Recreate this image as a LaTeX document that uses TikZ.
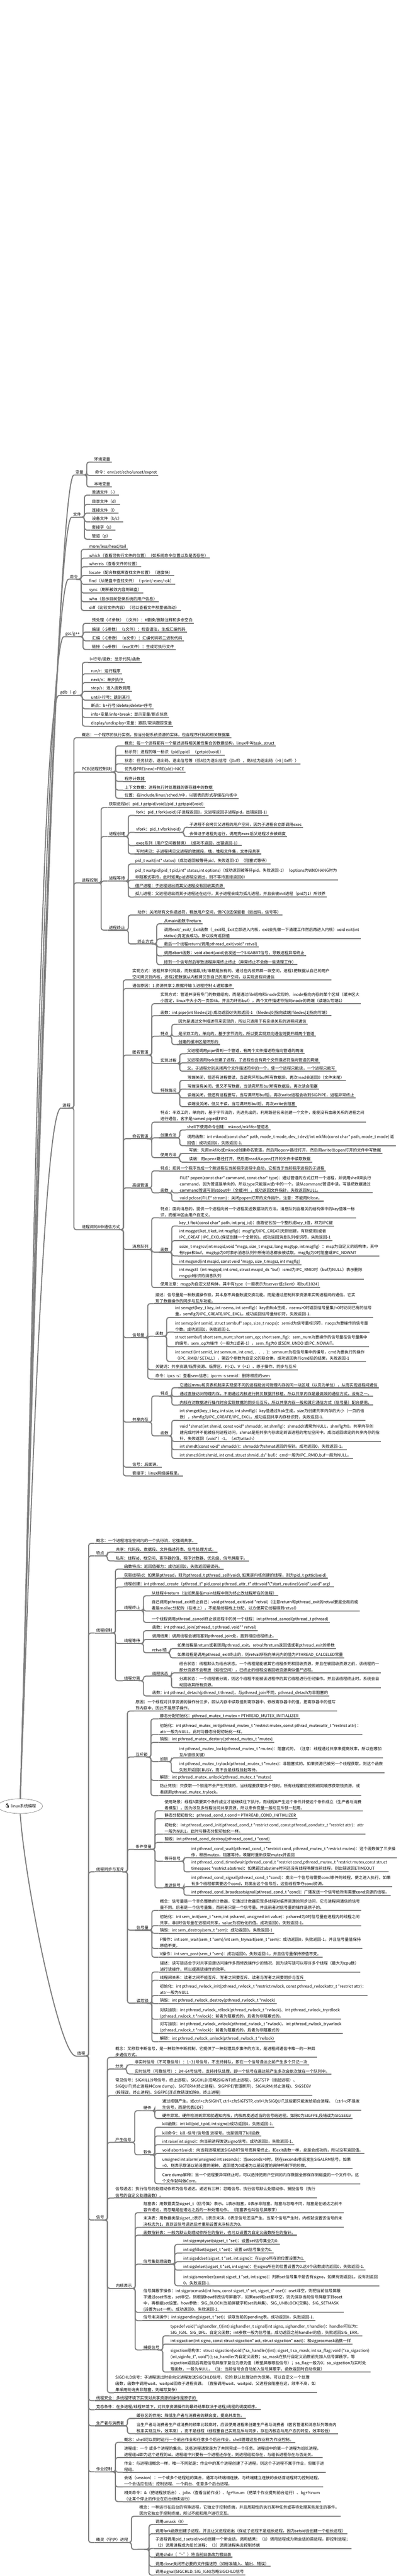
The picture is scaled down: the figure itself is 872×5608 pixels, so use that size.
\documentclass[tikz,border=0pt]{standalone}
\usepackage{fontspec}
\setmainfont{Noto Sans CJK SC}
\newfontfamily\emojifont{Noto Emoji}
\usetikzlibrary{shapes.geometric}
\definecolor{linegray}{RGB}{128,128,128}
\newcommand{\tfont}{\fontsize{8.7pt}{13.5pt}\selectfont}
\tikzset{%
	topic/.style={
		anchor=south west,
		inner xsep=3pt,
		inner ysep=1.5pt,
		align=left,
		font=\tfont,
		append after command={(\tikzlastnode.south west) edge[uline] (\tikzlastnode.south east)}
	},
	uline/.style={draw=linegray, line width=2.3pt},
	branch/.style={
		every edge/.style={draw=linegray, line width=2.3pt, rounded corners=5pt,
			to path={-- ++(4,0) |- (\tikztotarget)}}
	},
	trunk/.style={draw=linegray, line width=2.3pt},
	rootnode/.style={
		ellipse,
		draw=linegray,
		line width=0.8pt,
		fill=white,
		minimum width=86pt,
		minimum height=32pt,
		inner sep=0pt,
		font=\tfont
	},
}

\begin{document}
\begin{tikzpicture}[x=1pt,y=-1pt]
			\useasboundingbox (0,0) rectangle (872,5608);
			% Draw the root
			\node[rootnode] (root) at (44,3932) {{\emojifont\fontsize{10pt}{10pt}\selectfont 🐧}\,linux系统编程};
			
			% Draw the main topics
			\node[topic] (bl) at (161,1034) {变量};
			\node[topic] (wj) at (156,1126) {文件};
			\node[topic] (ml) at (149,1261) {命令};
			\node[topic] (gcc) at (139,1386) {gcc/g++};
			\node[topic] (gdb) at (128,1514) {gdb（-g）};
			\node[topic] (jc) at (133,2412) {进程};
			\node[topic] (xc) at (165,4476) {线程};
			\draw[trunk] (root.north) .. controls +(25,-800) and +(-40,0) .. (bl.south west);
			\draw[trunk] (root.north) .. controls +(25,-800) and +(-40,0) .. (wj.south west);
			\draw[trunk] (root.north) .. controls +(25,-800) and +(-40,0) .. (ml.south west);
			\draw[trunk] (root.north) .. controls +(25,-800) and +(-40,0) .. (gcc.south west);
			\draw[trunk] (root.north) .. controls +(25,-800) and +(-40,0) .. (gdb.south west);
			\draw[trunk] (root.north) .. controls +(20,-500) and +(-40,0) .. (jc.south west);
			\draw[trunk] (root.south) .. controls +(10,150) and +(-35,0) .. (xc.south west);
			
			% variables and files
			\node[topic] (bl1) at (202,1006) {环境变量};
			\node[topic] (bl2) at (204,1035) {命令：env/set/echo/unset/exprot};
			\node[topic] (bl3) at (202,1060) {本地变量};
			\draw[branch] (bl.south east) edge (bl1.south west) edge (bl2.south west) edge (bl3.south west);
			\node[topic] (wj1) at (197,1078) {普通文件（-）};
			\node[topic] (wj2) at (197,1098) {目录文件（d）};
			\node[topic] (wj3) at (197,1117) {连接文件（l）};
			\node[topic] (wj4) at (197,1136) {设备文件（b/c）};
			\node[topic] (wj5) at (197,1154) {套接字（s）};
			\node[topic] (wj6) at (197,1174) {管道（p）};
			\draw[branch] (wj.south east) edge (wj1.south west) edge (wj2.south west) edge (wj3.south west)
				edge (wj4.south west) edge (wj5.south west) edge (wj6.south west);
			
			% commands
			\node[topic] (ml1) at (191,1196) {more/less/head/tail};
			\node[topic] (ml2) at (191,1215) {which（查看可执行文件的位置）（如系统命令位置以及是否存在）};
			\node[topic] (ml3) at (191,1234) {whereis（查看文件的位置）};
			\node[topic] (ml4) at (191,1253) {locate（配合数据库查找文件位置）（速度快）};
			\node[topic] (ml5) at (191,1272) {find（从硬盘中查找文件）（-print/-exec/-ok）};
			\node[topic] (ml6) at (191,1291) {sync（刷新被改内容到磁盘）};
			\node[topic] (ml7) at (191,1310) {who（显示目前登录系统的用户信息）};
			\node[topic] (ml8) at (191,1329) {diff（比较文件内容）（可以查看文件那里被改动）};
			\draw[branch] (ml.south east) edge (ml1.south west) edge (ml2.south west) edge (ml3.south west)
				edge (ml4.south west) edge (ml5.south west) edge (ml6.south west) edge (ml7.south west) edge (ml8.south west);
			
			% gcc and gdb
			\node[topic] (gcc1) at (197,1357) {预处理（-E参数）（i文件）：\#替换/删除注释和多余空白};
			\node[topic] (gcc2) at (197,1376) {编译（-S参数）（s文件）：检查语法，生成汇编代码};
			\node[topic] (gcc3) at (197,1395) {汇编（-C参数）（o文件）：汇编代码转二进制代码};
			\node[topic] (gcc4) at (197,1414) {链接（-o参数）（exe文件）：生成可执行文件};
			\draw[branch] (gcc.south east) edge (gcc1.south west) edge (gcc2.south west) edge (gcc3.south west) edge (gcc4.south west);
			\node[topic] (gdb1) at (192,1442) {l+行号/函数：显示代码/函数};
			\node[topic] (gdb2) at (195,1467) {run/r：运行程序};
			\node[topic] (gdb3) at (195,1486) {next/n：单步执行};
			\node[topic] (gdb4) at (195,1505) {step/s：进入函数调用};
			\node[topic] (gdb5) at (195,1524) {until+行号：跳到某行};
			\node[topic] (gdb6) at (195,1543) {断点：b+行号/delete/delete+序号};
			\node[topic] (gdb7) at (195,1562) {info+变量/info+break：显示变量/断点信息};
			\node[topic] (gdb8) at (195,1581) {display/undisplay+变量：跟踪/取消跟踪变量};
			\draw[branch] (gdb.south east) edge (gdb1.south west) edge (gdb2.south west) edge (gdb3.south west) edge (gdb4.south west)
				edge (gdb5.south west) edge (gdb6.south west) edge (gdb7.south west) edge (gdb8.south west);
			
			% processes
			\node[topic] (jc1) at (175,1606) {概念：一个程序的执行实例，担当分配系统资源的实体，包含程序代码和相关数据集};
			\node[topic] (pcb) at (175,1681) {PCB(进程控制块)};
			\node[topic] (kz) at (175,1922) {进程控制};
			\node[topic] (tx) at (175,2677) {进程间的8中通信方式};
			\draw[branch] (jc.south east) edge (jc1.south west) edge (pcb.south west) edge (kz.south west) edge (tx.south west);
			\node[topic] (pcb1) at (268,1624) {概念：每一个进程都有一个描述进程相关属性集合的数据结构，linux中叫task\_struct};
			\node[topic] (pcb2) at (268,1644) {标示符：进程的唯一标识（pid/ppid）（getpid(void)）};
			\node[topic] (pcb3) at (268,1663) {状态：任务状态，退出码，退出信号等（低8位为退出信号（|0xff），高8位为退出码（>8 | 0xff））};
			\node[topic] (pcb4) at (268,1681) {优先级PRE(new)=PRE(old)+NICE};
			\node[topic] (pcb5) at (268,1701) {程序计数器};
			\node[topic] (pcb6) at (268,1720) {上下文数据：进程执行时处理器的寄存器中的数据};
			\node[topic] (pcb7) at (268,1738) {位置：在include/linux/sched.h中，以链表的形式存储在内核中};
			\draw[branch] (pcb.south east) edge (pcb1.south west) edge (pcb2.south west) edge (pcb3.south west) edge (pcb4.south west)
				edge (pcb5.south west) edge (pcb6.south west) edge (pcb7.south west);
			
			% process control
			\node[topic] (kz1) at (234,1758) {获取进程id：pid\_t getpid(void)/pid\_t getppid(void)};
			\node[topic] (cj) at (234,1821) {进程创建};
			\node[topic] (dd) at (234,1918) {进程等待};
			\node[topic] (zz) at (234,2025) {进程终止};
			\draw[branch] (kz.south east) edge (kz1.south west) edge (cj.south west) edge (dd.south west) edge (zz.south west);
			\node[topic] (cj1) at (293,1775) {fork：pid\_t fork(void)(子进程返回0，父进程返回子进程pid，出错返回-1)};
			\node[topic] (vf) at (293,1812) {vfork：pid\_t vfork(void)};
			\node[topic] (cj3) at (293,1841) {exec系列（用户空间被替换）（成功不返回，出错返回-1）};
			\node[topic] (cj4) at (293,1859) {写时拷贝：子进程拷贝父进程的数据段，栈，堆和文件集，文本段共享};
			\draw[branch] (cj.south east) edge (cj1.south west) edge (vf.south west) edge (cj3.south west) edge (cj4.south west);
			\node[topic] (vf1) at (409,1801) {子进程不会拷贝父进程的用户空间，因为子进程会立即调用exec};
			\node[topic] (vf2) at (409,1821) {会保证子进程先运行，调用完exec后父进程才会被调度};
			\draw[branch] (vf.south east) edge (vf1.south west) edge (vf2.south west);
			\node[topic] (dd1) at (291,1881) {pid\_t wait(int* status)（成功返回被等待pid，失败返回-1）（阻塞式等待）};
			\node[topic] (dd2) at (291,1916) {pid\_t waitpid(pid\_t pid,int* status,int options)（成功返回被等待pid，失败返回-1）（options为WNOHANG时为\\非阻塞式等待，此时如果pid进程没退出，则不等待直接返回0）};
			\node[topic] (dd3) at (291,1934) {僵尸进程：子进程退出而其父进程没有回收其资源};
			\node[topic] (dd4) at (291,1953) {孤儿进程：父进程退出而其子进程还在运行，其子进程会成为孤儿进程，并且会被init进程（pid为1）所领养};
			\draw[branch] (dd.south east) edge (dd1.south west) edge (dd2.south west) edge (dd3.south west) edge (dd4.south west);
			\node[topic] (zz1) at (296,1992) {动作：关闭所有文件描述符，释放用户空间，但PCB还保留着（退出码，信号等）};
			\node[topic] (fs) at (296,2055) {终止方式};
			\draw[branch] (zz.south east) edge (zz1.south west) edge (fs.south west);
			\node[topic] (fs1) at (354,2011) {从main函数中return};
			\node[topic] (fs2) at (354,2044) {调用exit/\_exit/\_Exit函数（\_exit和\_Exit立即进入内核，exit会先做一下清理工作然后再进入内核）void exit(int\\status);肯定会成功，所以没有返回值};
			\node[topic] (fs3) at (354,2062) {最后一个线程return/调用pthread\_exit(void* retval)};
			\node[topic] (fs4) at (354,2081) {调用abort函数：void abort(void)会发送一个SIGABRT信号，导致进程异常终止};
			\node[topic] (fs5) at (354,2100) {接到一个信号然后导致进程异常终止终止（异常终止不会做一些清理工作）};
			\draw[branch] (fs.south east) edge (fs1.south west) edge (fs2.south west) edge (fs3.south west) edge (fs4.south west) edge (fs5.south west);
			
			% inter-process communication
			\node[topic] (tx1) at (285,2133) {实现方式：进程共享代码段，而数据段/栈/堆都是独有的。通过在内核开辟一块空间，进程1把数据从自己的用户\\空间拷贝到内核，进程2把数据从内核拷贝到自己的用户空间，以实现进程间通信};
			\node[topic] (tx2) at (285,2152) {通信原因：1.资源共享 2.数据传输 3.进程控制 4.通知事件};
			\node[topic] (nm) at (285,2297) {匿名管道};
			\node[topic] (mm) at (285,2479) {命名管道};
			\node[topic] (gj) at (285,2586) {高级管道};
			\node[topic] (xx) at (285,2720) {消息队列};
			\node[topic] (xl) at (285,2912) {信号量};
			\node[topic] (gx) at (285,3096) {共享内存};
			\node[topic] (tx9) at (285,3194) {信号：后面讲。};
			\node[topic] (tx10) at (285,3213) {套接字：linux网络编程里。};
			\draw[branch] (tx.south east) edge (tx1.south west) edge (tx2.south west) edge (nm.south west) edge (mm.south west) edge (gj.south west)
				edge (xx.south west) edge (xl.south west) edge (gx.south west) edge (tx9.south west) edge (tx10.south west);
			
			% anonymous pipe
			\node[topic] (nm1) at (346,2185) {实现方式：管道并没有专门的数据结构，而是通过file结构和inode实现的，inode指向内存的某个区域（缓冲区大\\小固定，linux中大小为一页即4k，并且为环形buf），两个文件描述符指向inode的两端（读端0/写端1）};
			\node[topic] (nm2) at (346,2211) {函数：int pipe(int filedes[2]) 成功返回0/失败返回-1 （filedes[0]指向读端/filedes[1]指向写端）};
			\node[topic] (td) at (346,2256) {特点};
			\node[topic] (gc) at (346,2315) {实现过程};
			\node[topic] (qk) at (346,2380) {特殊情况};
			\draw[branch] (nm.south east) edge (nm1.south west) edge (nm2.south west) edge (td.south west) edge (gc.south west) edge (qk.south west);
			\node[topic] (td1) at (385,2230) {因为是通过文件描述符来实现的，所以只适用于有亲缘关系的进程间通信};
			\node[topic] (td2) at (385,2256) {是半双工的，单向的，基于字节流的，所以要实现双向通信则要开辟两个管道};
			\node[topic] (td3) at (385,2274) {创建的缓冲区是环形的};
			\draw[branch] (td.south east) edge (td1.south west) edge (td2.south west) edge (td3.south west);
			\node[topic] (gc1) at (404,2294) {父进程调用pipe得到一个管道，有两个文件描述符指向管道的两端};
			\node[topic] (gc2) at (404,2314) {父进程调用fork创建子进程，子进程也会有两个文件描述符指向管道的两端};
			\node[topic] (gc3) at (404,2332) {父，子进程分别关闭两个文件描述符中的一个，使一个进程只能读，一个进程只能写};
			\draw[branch] (gc.south east) edge (gc1.south west) edge (gc2.south west) edge (gc3.south west);
			\node[topic] (qk1) at (405,2352) {写端关闭，但还有进程要读，当读完环形buf所有数据后，再次read会返回0（文件末尾）};
			\node[topic] (qk2) at (405,2371) {写端没有关闭，但又不写数据，当读完环形buf所有数据后，再次读会阻塞};
			\node[topic] (qk3) at (405,2390) {读端关闭，但还有进程要写，当写满环形buf后，再次write进程会收到SIGPIPE，进程异常终止};
			\node[topic] (qk4) at (405,2409) {读端没关闭，但又不读，当写满环形buf后，再次write会阻塞};
			\draw[branch] (qk.south east) edge (qk1.south west) edge (qk2.south west) edge (qk3.south west) edge (qk4.south west);
			
			% named pipe
			\node[topic] (mm1) at (346,2443) {特点：半双工的，单向的，基于字节流的，先进先出的。利用路径名来创建一个文件，能使没有血缘关系的进程之间\\进行通信，名字是named pipe或FIFO};
			\node[topic] (ff) at (346,2477) {创建方法};
			\node[topic] (sy) at (346,2520) {使用方法};
			\draw[branch] (mm.south east) edge (mm1.south west) edge (ff.south west) edge (sy.south west);
			\node[topic] (ff1) at (404,2460) {shell下使用命令创建：mknod/mkfifo+管道名};
			\node[topic] (ff2) at (404,2494) {调用函数：int mknod(const char* path, mode\_t mode, dev\_t dev)/int mkfifo(const char* path, mode\_t mode) 返\\回值：成功返回0，失败返回-1.};
			\draw[branch] (ff.south east) edge (ff1.south west) edge (ff2.south west);
			\node[topic] (sy1) at (408,2511) {写端：先用mkfifo或mknod创建命名管道，然后用open+路径打开，然后用write往open打开的文件中写数据};
			\node[topic] (sy2) at (408,2530) {读端：用open+路径打开，然后用read从open打开的文件中读取数据};
			\draw[branch] (sy.south east) edge (sy1.south west) edge (sy2.south west);
			
			% advanced pipe
			\node[topic] (gj1) at (346,2549) {特点：把另一个程序当成一个新进程在当前程序进程中启动，它相当于当前程序进程的子进程};
			\node[topic] (gh) at (346,2597) {函数};
			\draw[branch] (gj.south east) edge (gj1.south west) edge (gh.south west);
			\node[topic] (gh1) at (388,2597) {FILE* popen(const char* command, const char* type)：通过管道的方式打开一个进程，并调用shell来执行\\command，因为管道是单向的，所以type只能是w或r中的一个。读从command管道中读，写是把数据通过\\command管道写到stdout中（全缓冲）。成功返回文件指针，失败返回NULL。};
			\node[topic] (gh2) at (388,2615) {void pclose(FILE* stream)：关闭popen打开的文件指针。注意：不能用fclose。};
			\draw[branch] (gh.south east) edge (gh1.south west) edge (gh2.south west);
			
			% message queue
			\node[topic] (xx1) at (346,2651) {特点：面向消息的，提供一个进程向另一个进程发送数据块的方法。消息队列由相关的结构体中的key值唯一标\\识，而缓冲区由用户自定义。};
			\node[topic] (xh) at (346,2726) {函数};
			\node[topic] (xx3) at (346,2803) {使用注意：msgp为自定义结构体，其中有type（一般表示为server或client）和buf[1024]};
			\draw[branch] (xx.south east) edge (xx1.south west) edge (xh.south west) edge (xx3.south west);
			\node[topic] (xh1) at (387,2669) {key\_t ftok(const char* path, int proj\_id)：由路径名加一个整形成key\_t值，称为IPC键};
			\node[topic] (xh2) at (387,2701) {int msgget(ket\_t ket, int msgflg)：msgflg为IPC\_CREAT(无则创建，有则使用)或者\\IPC\_CREAT | IPC\_EXCL(保证创建一个全新的)。成功返回消息队列标识符，失败返回-1};
			\node[topic] (xh3) at (387,2734) {ssize\_t msgrcv(int msqid,void *msgp, size\_t msgsz, long msgtyp, int msgflg）：msp为自定义的结构体，其中\\有type和buf。msgtyp为0时表示消息队列中所有消息都会被读取。msgflg为0时阻塞或IPC\_NOWAIT};
			\node[topic] (xh4) at (387,2753) {int msgsnd(int msqid, const void *msgp, size\_t msgsz, int msgflg)};
			\node[topic] (xh5) at (387,2785) {int msgctl（int msgqid, int cmd, struct msqid\_ds *buf）:cmd为IPC\_RMID时（buf为NULL）表示删除\\msgqid标识的消息队列};
			\draw[branch] (xh.south east) edge (xh1.south west) edge (xh2.south west) edge (xh3.south west) edge (xh4.south west) edge (xh5.south west);
			
			% semaphore
			\node[topic] (xl1) at (335,2838) {描述：信号量是一种数据操作锁，其本身不具备数据交换功能。而是通过控制共享资源来实现进程间的通信。它实\\现了数据操作的同步与互斥功能。};
			\node[topic] (xlh) at (335,2909) {函数};
			\node[topic] (xl3) at (335,2982) {关键词：共享资源/临界资源、临界区、P(-1)、V（+1）、原子操作、同步与互斥};
			\node[topic] (xl4) at (335,3002) {命令：ipcs -s：查看sem信息；ipcrm -s semid：删除相应的sem};
			\draw[branch] (xl.south east) edge (xl1.south west) edge (xlh.south west) edge (xl3.south west) edge (xl4.south west);
			\node[topic] (xlh1) at (378,2868) {int semget(key\_t key, int nsems, int semflg)：key由ftok生成，nsems>0时返回信号量集/=0时访问已有的信号\\量，semflg为IPC\_CREATE/IPC\_EXCL。成功返回信号量标识符，失败返回-1.};
			\node[topic] (xlh2) at (378,2900) {int semop(int semid, struct sembuf* sops, size\_t nsops)：semid为信号量标识符，nsops为要操作的信号量\\个数。成功返回0，失败返回-1.};
			\node[topic] (xlh3) at (378,2932) {struct sembuf\{ short sem\_num; short sem\_op; short sem\_flg\}：sem\_num为要操作的信号量在信号量集中\\的编号，sem\_op为操作（一般为1或者-1），sem\_flg为0 或SEM\_UNDO 或IPC\_NOWAIT。};
			\node[topic] (xlh4) at (378,2964) {int semctl(int semid, int semnum, int cmd, ．．．)：semnum为在信号集中的编号，cmd为要执行的操作\\（IPC\_RMID/ SETALL），第四个参数为自定义的联合体。成功返回执行cmd后的结果，失败返回-1};
			\draw[branch] (xlh.south east) edge (xlh1.south west) edge (xlh2.south west) edge (xlh3.south west) edge (xlh4.south west);
			
			% shared memory
			\node[topic] (gt) at (346,3039) {特点};
			\node[topic] (gxh) at (346,3126) {函数};
			\draw[branch] (gx.south east) edge (gt.south west) edge (gxh.south west);
			\node[topic] (gt1) at (388,3021) {它通过mmu和页表机制来实现使不同的进程能访问物理内存的同一块区域（以页为单位），从而实现进程间通信};
			\node[topic] (gt2) at (388,3040) {通过直接访问物理内存，不用通过内核进行拷贝数据并移植，所以共享内存是最高效的通信方式，没有之一。};
			\node[topic] (gt3) at (388,3059) {内核在对数据进行操作时会实现数据的同步与互斥，所以共享内存一般和其它通信方式（信号量）配合使用。};
			\draw[branch] (gt.south east) edge (gt1.south west) edge (gt2.south west) edge (gt3.south west);
			\node[topic] (gxh1) at (388,3092) {int shmget(key\_t key, int size, int shmflg)：key值通过ftok生成，size为创建共享内存的大小（一页的倍\\数），shmflg为IPC\_CREATE/IPC\_EXCL。成功返回共享内存标识符，失败返回-1.};
			\node[topic] (gxh2) at (388,3138) {void *shmat(int shmid, const void* shmaddr, int shmflg)：shmaddr通常为NULL，shmflg为0。共享内存创\\建完成时并不能被任何进程访问，shmat是把共享内存绑定到该进程的地址空间中。成功返回绑定的共享内存的指\\针，失败返回（void*）-1。（at为attach）};
			\node[topic] (gxh3) at (388,3156) {int shmdt(const void* shmaddr)：shmaddr为shmat返回的指针。成功返回0，失败返回-1。};
			\node[topic] (gxh4) at (388,3175) {int shmctl(int shmid, int cmd, struct shmid\_ds* buf)：cmd一般为IPC\_RMID,buf一般为NULL。};
			\draw[branch] (gxh.south east) edge (gxh1.south west) edge (gxh2.south west) edge (gxh3.south west) edge (gxh4.south west);
			
			% threads
			\node[topic] (xc1) at (206,3360) {概念：一个进程地址空间内的一个执行流，它强调共享。};
			\node[topic] (xt) at (206,3387) {特点};
			\node[topic] (xk) at (206,3555) {线程控制};
			\node[topic] (tb) at (206,4075) {线程同步与互斥};
			\node[topic] (sg) at (206,4833) {信号};
			\node[topic] (xc5) at (206,5226) {线程安全：多线程环境下实现对共享资源的操作是原子的};
			\node[topic] (xc6) at (206,5246) {竞态条件：在多进程/线程环境下，对共享资源操作的最终结果取决于进程/线程的调度顺序。};
			\node[topic] (sc) at (206,5281) {生产者与消费者};
			\node[topic] (zy) at (206,5381) {作业控制};
			\node[topic] (jl) at (206,5535) {精灵（守护）进程};
			\draw[branch] (xc.south east) edge (xc1.south west) edge (xt.south west) edge (xk.south west) edge (tb.south west) edge (sg.south west)
				edge (xc5.south west) edge (xc6.south west) edge (sc.south west) edge (zy.south west) edge (jl.south west);
			\node[topic] (xt1) at (249,3379) {共享：代码段、数据段、文件描述符表、信号处理方式。};
			\node[topic] (xt2) at (249,3398) {私有：线程id、栈空间、寄存器的值、程序计数器、优先级、信号屏蔽字。};
			\draw[branch] (xt.south east) edge (xt1.south west) edge (xt2.south west);
			
			% thread control
			\node[topic] (xk1) at (267,3416) {函数特点：返回值都为：成功返回0，失败返回错误码。};
			\node[topic] (xk2) at (267,3436) {获取线程id：如果是pthread，则为pthread\_t pthread\_self(void), 如果是内核创建的线程，则为pid\_t gettid(void)};
			\node[topic] (xk3) at (267,3455) {线程创建：int pthread\_create（pthread\_t* pid,const pthread\_attr\_t* attr,void*(*start\_routine)(void*),void* arg）};
			\node[topic] (xz) at (267,3506) {线程终止};
			\node[topic] (xd) at (267,3578) {线程等待};
			\node[topic] (xf) at (267,3659) {线程分离};
			\draw[branch] (xk.south east) edge (xk1.south west) edge (xk2.south west) edge (xk3.south west) edge (xz.south west) edge (xd.south west) edge (xf.south west);
			\node[topic] (xz1) at (327,3474) {从线程中return（注如果是在main线程中则为终止改线程所在的进程）};
			\node[topic] (xz2) at (327,3507) {自己调用pthread\_exit终止自己：void pthread\_exit(void *retval)（注意return和pthread\_exit的retval要是全局的或\\者是malloc分配的（在堆上），不能是线程栈上分配，以方便其它线程得到retval）};
			\node[topic] (xz3) at (327,3532) {一个线程调用pthread\_cancel终止该进程中的另一个线程：int pthread\_cancel(pthread\_t pthread)};
			\draw[branch] (xz.south east) edge (xz1.south west) edge (xz2.south west) edge (xz3.south west);
			\node[topic] (xd1) at (328,3550) {函数：int pthread\_join(pthread\_t pthread, void** retval)};
			\node[topic] (xd2) at (328,3569) {调用结果：调用线程会被阻塞到pthread\_join处，直到相应线程终止。};
			\node[topic] (rv) at (328,3598) {retval值};
			\draw[branch] (xd.south east) edge (xd1.south west) edge (xd2.south west) edge (rv.south west);
			\node[topic] (rv1) at (383,3589) {如果线程是return或者调用pthread\_exit，retval为return返回值或者pthread\_exit的参数};
			\node[topic] (rv2) at (383,3609) {如果线程是调用pthread\_exit终止的，则retval所指向单元内的值为PTHREAD\_CALCELED常量};
			\draw[branch] (rv.south east) edge (rv1.south west) edge (rv2.south west);
			\node[topic] (zt) at (328,3649) {线程状态};
			\node[topic] (xf2) at (328,3692) {函数：int pthread\_detach(pthread\_t thread)。与pthread\_join不同，pthread\_detach为非阻塞的};
			\draw[branch] (xf.south east) edge (zt.south west) edge (xf2.south west);
			\node[topic] (zt1) at (387,3642) {结合状态：线程默认为结合状态。一个线程是能被其它线程杀死和回收资源，并且在被回收资源之前，该线程的一\\部分资源不会释放（如栈空间），已终止的线程没被回收资源类似僵尸进程。};
			\node[topic] (zt2) at (387,3674) {分离状态：一个线程被分离，则这个线程不能被该进程中的其它线程进行任何操作。并且该线程终止时，系统会自\\动回收其所有资源。};
			\draw[branch] (zt.south east) edge (zt1.south west) edge (zt2.south west);
			
			% thread synchronisation
			\node[topic] (tb1) at (292,3725) {原因：一个线程对共享资源的操作分三步，即从内存中读取值到寄存器中、修改寄存器中的值、把寄存器中的值写\\到内存中，因此不是原子操作。};
			\node[topic] (hc) at (292,3825) {互斥锁};
			\node[topic] (tj) at (292,4026) {条件变量};
			\node[topic] (sl) at (294,4202) {信号量};
			\node[topic] (dw) at (294,4361) {读写锁};
			\draw[branch] (tb.south east) edge (tb1.south west) edge (hc.south west) edge (tj.south west) edge (sl.south west) edge (dw.south west);
			\node[topic] (hc1) at (345,3742) {静态分配初始化：pthread\_mutex\_t mutex = PTHREAD\_MUTEX\_INITIALIZER};
			\node[topic] (hc2) at (345,3776) {初始化：int pthread\_mutex\_init(pthread\_mutex\_t *restrict mutex, const pthrad\_mutexattr\_t *restrict attr) ：\\attr一般为NULL，此时与静态分配初始化一样。};
			\node[topic] (hc3) at (345,3793) {销毁：int pthread\_mutex\_destory(pthread\_mutex\_t *mutex)};
			\node[topic] (js) at (345,3835) {加锁};
			\node[topic] (hc5) at (345,3876) {解锁：int pthread\_mutex\_unlock(pthread\_mutex\_t *mutex)};
			\node[topic] (hc6) at (345,3909) {防止死锁：只获取一个锁是不会产生死锁的，当线程要获取多个锁时，所有线程都应按照相同顺序获取锁资源，或\\者调用pthread\_mutex\_trylock。};
			\draw[branch] (hc.south east) edge (hc1.south west) edge (hc2.south west) edge (hc3.south west) edge (js.south west) edge (hc5.south west) edge (hc6.south west);
			\node[topic] (js1) at (387,3827) {int pthread\_mutex\_lock(pthread\_mutex\_t *mutex)：阻塞式的，（注意：线程通过共享来提高效率，所以在哪加\\互斥锁很关键）};
			\node[topic] (js2) at (387,3859) {int pthread\_mutex\_trylock(pthread\_mutex\_t *mutex)：非阻塞式的，如果资源已被另一个线程获取，则这个函数\\失败并返回EBUSY，而不会是线程挂起等待。};
			\draw[branch] (js.south east) edge (js1.south west) edge (js2.south west);
			\node[topic] (tj1) at (355,3942) {使用场景：线程A需要某个条件成立才能继续往下执行，而线程B产生这个条件并使这个条件成立（生产者与消费\\者模型）。因为涉及多线程访问共享资源，所以条件变量一般与互斥锁一起用。};
			\node[topic] (tj2) at (355,3959) {静态分配初始化：pthread\_cond\_t cond = PTHREAD\_COND\_INITIALIZER};
			\node[topic] (tj3) at (355,3993) {初始化：int pthread\_cond\_init(pthread\_cond\_t *restrict cond, const pthread\_condattr\_t *restrict attr)：attr\\一般为NULL，此时与静态分配初始化一样。};
			\node[topic] (tj4) at (355,4011) {销毁：int pthread\_cond\_destroy(pthread\_cond\_t *cond)};
			\node[topic] (dx) at (355,4052) {等待信号};
			\node[topic] (fx) at (355,4110) {发送信号};
			\draw[branch] (tj.south east) edge (tj1.south west) edge (tj2.south west) edge (tj3.south west) edge (tj4.south west) edge (dx.south west) edge (fx.south west);
			\node[topic] (dx1) at (413,4044) {int pthread\_cond\_wait(pthread\_cond\_t *restrict cond, pthread\_mutex\_t *restrict mutex)：这个函数做了三步操\\作，释放mutex，阻塞等待，唤醒时重新获取mutex并返回};
			\node[topic] (dx2) at (413,4075) {int pthread\_cond\_timedwait(pthread\_cond\_t *restrict cond,pthread\_mutex\_t *restrict mutex,const struct\\timespaec *restrict abstime)：如果超过abstime时间还没有线程唤醒当前线程，则出错返回ETIMEOUT};
			\draw[branch] (dx.south east) edge (dx1.south west) edge (dx2.south west);
			\node[topic] (fx1) at (413,4107) {int pthread\_cond\_signal(pthread\_cond\_t *cond)：发出一个信号给需要cond条件的线程，使之进入执行。如果\\有多个线程都需要这个cond，则发出这个信号后，这些线程争夺cond资源。};
			\node[topic] (fx2) at (413,4126) {int pthread\_cond\_broadcastsignal(pthread\_cond\_t *cond)：广播发送一个信号给所有需要cond资源的线程。};
			\draw[branch] (fx.south east) edge (fx1.south west) edge (fx2.south west);
			\node[topic] (sl1) at (345,4159) {概念：信号量是一个非负整数的计数器，它通过计数器实现多线程对临界资源的同步访问，它与进程间通信的信号\\量不同，后者是一个信号量集，而前者只是一个信号量。并且前者对信号量的操作是原子的。};
			\node[topic] (sl2) at (345,4192) {初始化：int sem\_init(sem\_t *sem, int pshared, unsigned int value)：pshared为0时信号量在进程内的线程之间\\共享，非0时信号量在进程间共享，value为初始化的值。成功返回0，失败返回-1。};
			\node[topic] (sl3) at (345,4209) {销毁：int sem\_destroy(sem\_t *sem)：成功返回0，失败返回-1};
			\node[topic] (sl4) at (345,4242) {P操作：int sem\_wait(sem\_t *sem)/int sem\_trywait(sem\_t *sem)：成功返回0，失败返回-1，并且信号量值保持\\原值不变。};
			\node[topic] (sl5) at (345,4261) {V操作：int sem\_post(sem\_t *sem)：成功返回0，失败返回-1，并且信号量保持原值不变。};
			\draw[branch] (sl.south east) edge (sl1.south west) edge (sl2.south west) edge (sl3.south west) edge (sl4.south west) edge (sl5.south west);
			\node[topic] (dw1) at (345,4293) {描述：读写锁适合于对共享资源访问操作多而修改操作少的情况，因为读写锁可以容许多个线程（最大为cpu数）\\进行读操作，所以提高读操作的效率。};
			\node[topic] (dw2) at (345,4311) {线程间关系：读者之间不能互斥、写者之间要互斥、读者与写者之间要同步与互斥};
			\node[topic] (dw3) at (345,4344) {初始化：int pthread\_rwlock\_init(pthread\_rwlock\_t *restrict rwlock, const pthread\_rwlockattr\_t *restrict attr)：\\attr一般为NULL};
			\node[topic] (dw4) at (345,4362) {销毁：int pthread\_rwlock\_destroy(pthread\_rwlock\_t *rwlock)};
			\node[topic] (dw5) at (345,4396) {对读加锁：int pthread\_rwlock\_rdlock(pthread\_rwlock\_t *rwlock)、int pthread\_rwlock\_tryrdlock\\(pthread\_rwlock\_t *rwlock)：前者为阻塞式的，后者为非阻塞式的。};
			\node[topic] (dw6) at (345,4427) {对写加锁：int pthread\_rwlock\_wrlock(pthread\_rwlock\_t *rwlock)、int pthread\_rwlock\_trywrlock\\(pthread\_rwlock\_t *rwlock)：前者为阻塞式的，后者为非阻塞式的};
			\node[topic] (dw7) at (345,4445) {解锁：int pthread\_rwlock\_unlock(pthread\_rwlock\_t *rwlock)};
			\draw[branch] (dw.south east) edge (dw1.south west) edge (dw2.south west) edge (dw3.south west) edge (dw4.south west)
				edge (dw5.south west) edge (dw6.south west) edge (dw7.south west);
			
			% signals
			\node[topic] (sg1) at (248,4479) {概念：又称软中断信号，是一种软件中断机制，它提供了一种处理异步事件的方法，是进程间通信中唯一的一种异\\步通信方式。};
			\node[topic] (fl) at (248,4504) {分类};
			\node[topic] (sg3) at (248,4562) {常见信号：SIGKILL(9号信号，终止进程)、SIGCHLD(忽略)SIGINT(终止进程)、SIGTSTP（挂起进程）、\\SIGQUIT(终止进程并Core dump)、SIGTERM(终止进程)、SIGPIPE(管道断开)、SIGALRM(终止进程)、SIGSEGV\\(段错误，终止进程)、SIGFPE(浮点数错误如除0，终止进程)};
			\node[topic] (cs) at (248,4664) {产生信号};
			\node[topic] (sg5) at (248,4785) {信号递达：执行信号的处理动作称为信号递达。递达有三种：忽略信号、执行信号默认处理动作、捕捉信号（执行\\信号的自定义处理函数）。};
			\node[topic] (nh) at (249,4982) {内核表示};
			\node[topic] (sg7) at (248,5209) {SIGCHLD信号：子进程退出时会向父进程发送SIGCHLD信号，它的 默认处理动作为忽略，可以自定义一个处理\\函数，函数中调用wait、waitpid回收子进程资源。（直接调用wait、waitpid，父进程会阻塞在这，效率不高，如\\果采用轮询夹非阻塞，则编写复杂）};
			\draw[branch] (sg.south east) edge (sg1.south west) edge (fl.south west) edge (sg3.south west) edge (cs.south west) edge (sg5.south west)
				edge (nh.south west) edge (sg7.south west);
			\node[topic] (fl1) at (290,4495) {非实时信号（不可靠信号）：1\textasciitilde{}31号信号，不支持排队，即在一个信号递达之前产生多个只记一次};
			\node[topic] (fl2) at (290,4515) {实时信号（可靠信号）：34\textasciitilde{}64号信号，支持排队处理，即一个信号在递达前产生多次会依次放在一个队列中。};
			\draw[branch] (fl.south east) edge (fl1.south west) edge (fl2.south west);
			\node[topic] (yj) at (309,4595) {硬件};
			\node[topic] (rj) at (309,4691) {软件};
			\draw[branch] (cs.south east) edge (yj.south west) edge (rj.south west);
			\node[topic] (yj1) at (350,4594) {通过按键产生。如ctrl+c为SIGINT, ctrl+z为SIGTSTP, ctrl+\textbackslash{}为SIGQUIT,这些都只能发给前台进程。（ctrl+d不是发\\生信号，而是代表EOF）};
			\node[topic] (yj2) at (350,4612) {硬件异常。硬件检测到异常就通知内核，内核再发送适当的信号给进程。如除0为SIGFPE,段错误为SIGSEGV};
			\draw[branch] (yj.south east) edge (yj1.south west) edge (yj2.south west);
			\node[topic] (rj1) at (350,4631) {kill函数：int kill(pid\_t pid, int signo):成功返回0，失败返回-1.};
			\node[topic] (rj2) at (350,4650) {kill命令：kill -信号/信号值 进程号。也是调用了kill函数};
			\node[topic] (rj3) at (350,4669) {int raise(int signo)：向当前进程发送signo信号。成功返回0，失败返回-1.};
			\node[topic] (rj4) at (350,4688) {void abort(void)：向当前进程发送SIGABRT信号而异常终止。和exit函数一样，总是会成功的，所以没有返回值。};
			\node[topic] (rj5) at (350,4721) {unsigned int alarm(unsigned int seconds)：当seconds>0时，则在seconds秒后发生SIGALRM信号，如果\\=0，则表示取消以前设置的闹钟。返回值为0或者为以前设置的闹钟所剩下的秒数。};
			\node[topic] (rj6) at (350,4754) {Core dump解释：当一个进程要异常终止时，可以选择把用户空间的内存数据全部保存到磁盘的一个文件中，这\\个文件就叫做Core。};
			\draw[branch] (rj.south east) edge (rj1.south west) edge (rj2.south west) edge (rj3.south west) edge (rj4.south west) edge (rj5.south west) edge (rj6.south west);
			
			% kernel representation of signals
			\node[topic] (nh1) at (309,4817) {阻塞表：用数据类型sigset\_t（信号集）表示。1表示阻塞，0表示非阻塞。阻塞与忽略不同，阻塞是在递达之前不\\容许递达，而忽略是在递达之后的一种处理动作。（阻塞表也叫信号屏蔽字）};
			\node[topic] (nh2) at (309,4849) {未决表：用数据类型sigset\_t表示。1表示未决，0表示信号还没产生。当某个信号产生时，内核就设置该信号的未\\决标志为1，直到该信号递达后才重新设置未决标志为0。};
			\node[topic] (nh3) at (309,4866) {函数指针表：一般为默认处理动作所在的指针，也可以设置为自定义函数所在的指针。};
			\node[topic] (jh) at (309,4929) {信号集处理函数};
			\node[topic] (nh5) at (309,5034) {信号屏蔽字操作：int sigprocmask(int how, const sigset\_t* set, sigset\_t* oset)：oset非空，则把当前信号屏蔽\\字通过oset传出，set非空，则根据how修改信号屏蔽字，如果oset和set都非空，则先保存当前信号屏蔽字到oset\\中，再根据set设置。how参数：SIG\_BLOCK(当前屏蔽字和set的并集)、SIG\_UNBLOCK(交集)、SIG\_SETMASK\\(设置为set一样)。成功返回0，失败返回-1.};
			\node[topic] (nh6) at (309,5052) {信号未决操作：int sigpending(sigset\_t *set)：读取当前的pending表。成功返回0，失败返回-1.};
			\node[topic] (bz) at (309,5116) {捕捉信号};
			\draw[branch] (nh.south east) edge (nh1.south west) edge (nh2.south west) edge (nh3.south west) edge (jh.south west) edge (nh5.south west)
				edge (nh6.south west) edge (bz.south west);
			\node[topic] (jh1) at (396,4886) {int sigemptyset(sigset\_t *set)：设置set信号集全为0.};
			\node[topic] (jh2) at (396,4905) {int sigfillset(sigset\_t *set)：设置 set信号集全为1.};
			\node[topic] (jh3) at (396,4924) {int sigaddset(sigset\_t *set, int signo)：在signo所在的位置设置为1.};
			\node[topic] (jh4) at (396,4942) {int sigdelset(sigset\_t *set, int signo)：在signo所在的位置设置为0.这4个函数成功返回0，失败返回-1.};
			\node[topic] (jh5) at (396,4976) {int sigismember(const sigset\_t *set, int signo)：判断set信号集中是否有signo，如果有则返回1，没有则返回\\0，失败返回-1.};
			\draw[branch] (jh.south east) edge (jh1.south west) edge (jh2.south west) edge (jh3.south west) edge (jh4.south west) edge (jh5.south west);
			\node[topic] (bz1) at (368,5085) {typedef void(*sighandler\_t)(int) sighandler\_t signal(int signo, sighandler\_t handler)：handler可以为：\\SIG\_IGN、SIG\_DFL、自定义函数；int参数一般为信号值。成功返回之前handler的值，失败返回SIG\_ERR。};
			\node[topic] (bz2) at (368,5103) {int sigaction(int signo, const struct sigaction* act, struct sigaction* oact)：和sigprocmask函数一样};
			\node[topic] (bz3) at (368,5164) {sigaction结构体：struct sigaction\{void (*sa\_handler)(int); sigset\_t sa\_mask; int sa\_flag; void (*sa\_sigaction)\\(int,siginfo\_t*, void*) \}; sa\_handler为自定义函数；sa\_mask在执行自定义函数前先加入信号屏蔽字，等\\sigaction返回后再把信号屏蔽字复位为原先值（希望屏蔽哪些信号）；sa\_flag一般为0；sa\_sigaction为实时处\\理函数，一般为NULL。（注：当前信号会自动加入信号屏蔽字，函数返回时自动恢复）};
			\draw[branch] (bz.south east) edge (bz1.south west) edge (bz2.south west) edge (bz3.south west);
			
			% producer / consumer, job control, daemons
			\node[topic] (sc1) at (294,5265) {缓存区的作用：降低生产者与消费者的耦合度，提高并发性。};
			\node[topic] (sc2) at (294,5298) {当生产者与消费者生产或消费的频率比较高时，应该使用进程来创建生产者与消费者（匿名管道和消息队列等由内\\核来实现互斥，效率高），而不是线程（线程要自己实现互斥与同步，存在内核态与用户态的转变，效率较低）};
			\draw[branch] (sc.south east) edge (sc1.south west) edge (sc2.south west);
			\node[topic] (zy1) at (267,5317) {概念：shell可以同时运行一个前台作业和任意多个后台作业，shell管理这些作业称为作业控制。};
			\node[topic] (zy2) at (267,5350) {进程组：一个 或多个进程的集合，这些进程通常是为了共同完成一个任务。进程组中的第一个进程为组长进程，\\进程组id即为这个进程的id。进程组中只要有一个进程还存在，则进程组就存在，与组长进程存在与否无关。};
			\node[topic] (zy3) at (267,5382) {作业：与进程组概念一样，唯一不同就是：作业中的某个进程创建了子进程，则这个子进程不属于作业，但属于进\\程组。};
			\node[topic] (zy4) at (267,5414) {会话（session）：一个或多个进程组的集合，通常与终端相连接。与终端建立连接的会话首进程称为控制进程。\\一个会话应包括：控制进程、一个前台、任意多个后台进程。};
			\node[topic] (zy5) at (267,5446) {相关命令：\&（把进程放后台）、jobs（查看当前作业）、fg+\%num（把某个作业提到前台运行）、bg+\%num\\（让某个停止的作业在后台继续运行）};
			\draw[branch] (zy.south east) edge (zy1.south west) edge (zy2.south west) edge (zy3.south west) edge (zy4.south west) edge (zy5.south west);
			\node[topic] (jl1) at (300,5478) {概念：一种运行在后台的特殊进程，它独立于控制终端，并且周期性的执行某种任务或等待处理某些发生的事件。\\因为它独立于控制终端，所以不能和用户进行交互。};
			\node[topic, minimum width=20pt] (jk) at (300,5550) {};
			\draw[branch] (jl.south east) edge (jl1.south west) edge (jk.south west);
			\node[topic] (jk1) at (335,5496) {调用umask（0）};
			\node[topic] (jk2) at (335,5516) {调用fork函数创建子进程，并且让父进程退出（保证子进程不是组长进程，因为setsid会创建一个组长进程）};
			\node[topic] (jk3) at (335,5548) {子进程调用pid\_t setsid(void)创建一个新会话。调用结果：（1）调用进程成为新会话的首进程，即控制进程；\\（2）调用进程成为组长进程；（3）调用进程失去控制终端};
			\node[topic] (jk4) at (335,5567) {调用chdir（“\textasciitilde{}”）将当前目录改为根目录};
			\node[topic] (jk5) at (335,5587) {调用close关闭不必要的文件描述符（如标准输入、输出、错误）};
			\node[topic] (jk6) at (335,5606) {调用signal(SIGCHLD, SIG\_IGN)忽略SIGCHLD信号};
			\draw[branch] (jk.south east) edge (jk1.south west) edge (jk2.south west) edge (jk3.south west) edge (jk4.south west) edge (jk5.south west) edge (jk6.south west);
			
		\end{tikzpicture}
\end{document}
